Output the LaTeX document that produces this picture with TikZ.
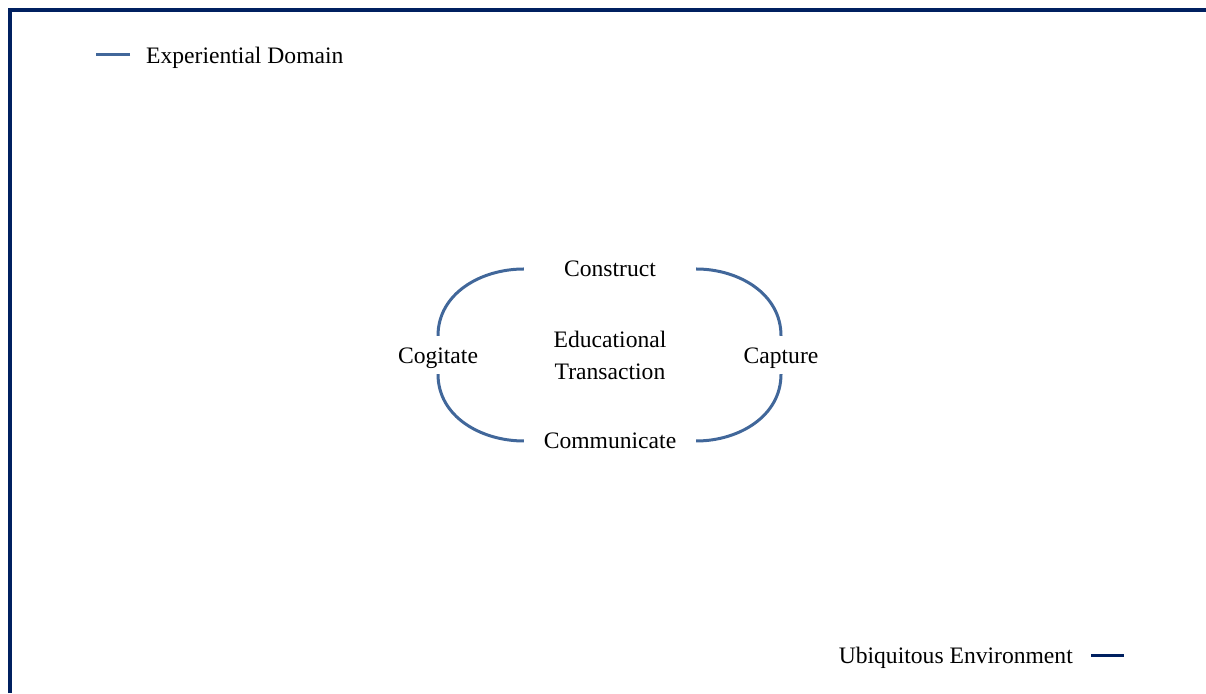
\documentclass[tikz,border=0pt]{standalone}
\usepackage{fontspec}
\setmainfont{Liberation Serif}
\usetikzlibrary{positioning}
\definecolor{framenavy}{RGB}{0,32,96}
\definecolor{arcblue}{RGB}{65,103,154}

\begin{document}
\begin{tikzpicture}[x=1pt,y=1pt,node distance=86pt,
  word/.style={font=\fontsize{23.6}{32}\selectfont,inner sep=0pt},
  lowword/.style={word,text height=17.5pt,text depth=0pt},
  ends/.style={word,minimum width=172pt},
  sides/.style={lowword,minimum height=38pt},
  ring/.style={draw=arcblue,line width=3pt},
  legline/.style={line width=3pt}]
\useasboundingbox (0,0) rectangle (1206,693);
\draw[framenavy,line width=4pt] (10,0) -- (10,683) -- (1206,683);

\node[word,align=center] (edu) at (610,338) {Educational\\Transaction};
\node[ends,above of=edu] (con) {Construct};
\node[ends,below of=edu] (com) {Communicate};
\node[sides,node distance=172pt,left of=edu] (cog) {Cogitate};
\node[sides,node distance=171pt,right of=edu] (cap) {Capture};

\draw[ring] (con.west) to[out=180,in=90] (cog.north);
\draw[ring] (cog.south) to[out=-90,in=180] (com.west);
\draw[ring] (com.east) to[out=0,in=-90] (cap.south);
\draw[ring] (cap.north) to[out=90,in=0] (con.east);

% legend
\node[lowword,anchor=west] (exp) at (146,638) {Experiential Domain};
\draw[legline,arcblue] ([xshift=-16pt]exp.west) -- ++(-34,0);
\node[lowword,anchor=east] (ubi) at (1073,38) {Ubiquitous Environment};
\draw[legline,framenavy] ([xshift=18pt]ubi.east) -- ++(33,0);
\end{tikzpicture}
\end{document}
